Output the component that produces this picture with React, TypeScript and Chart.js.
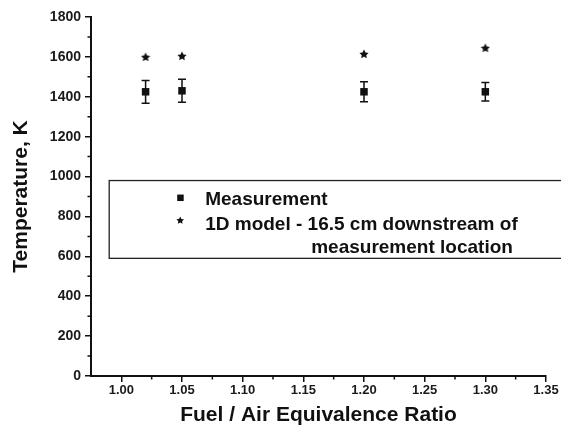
import React, { useEffect, useRef } from 'react';
import { Chart, registerables } from 'chart.js';

Chart.register(...registerables);

// ---- data ----
const ratio = [1.02, 1.05, 1.2, 1.3];
const measured = [1425, 1430, 1425, 1425];
const measuredErr = [57, 58, 50, 46];
const model = [1600, 1605, 1615, 1645];

const xTicks = [1.0, 1.05, 1.1, 1.15, 1.2, 1.25, 1.3, 1.35];
const yTicks = [0, 200, 400, 600, 800, 1000, 1200, 1400, 1600, 1800];

const legendLines = [
  'Measurement',
  '1D model - 16.5 cm downstream of',
  'measurement location',
];

const xTitle = 'Fuel / Air Equivalence Ratio';
const yTitle = 'Temperature, K';

const INK = '#111';
const FONT = 'Liberation Sans, Arial, sans-serif';

function drawStar(ctx: CanvasRenderingContext2D, cx: number, cy: number, R: number) {
  const r = R * 0.5;
  ctx.beginPath();
  for (let i = 0; i < 10; i++) {
    const a = -Math.PI / 2 + (i * Math.PI) / 5;
    const rad = i % 2 ? r : R;
    ctx.lineTo(cx + rad * Math.cos(a), cy + rad * Math.sin(a));
  }
  ctx.closePath();
  ctx.fill();
}

function makeStarCanvas(size: number) {
  const c = document.createElement('canvas');
  c.width = size;
  c.height = size;
  const ctx = c.getContext('2d')!;
  ctx.fillStyle = INK;
  drawStar(ctx, size / 2, size / 2 + 0.4, size / 2 - 0.2);
  return c;
}

const mids = (arr: number[]) => arr.slice(1).map((v, i) => (v + arr[i]) / 2);

const minorTicksPlugin = {
  id: 'minorTicks',
  afterDraw(chart: any) {
    const { ctx, chartArea, scales } = chart;
    ctx.save();
    ctx.strokeStyle = INK;
    ctx.lineWidth = 1.5;
    ctx.beginPath();
    for (const v of mids(xTicks)) {
      const px = scales.x.getPixelForValue(v);
      ctx.moveTo(px, chartArea.bottom);
      ctx.lineTo(px, chartArea.bottom + 3.5);
    }
    for (const v of mids(yTicks)) {
      const py = scales.y.getPixelForValue(v);
      ctx.moveTo(chartArea.left, py);
      ctx.lineTo(chartArea.left - 3.5, py);
    }
    ctx.stroke();
    ctx.restore();
  },
};

const errorBarPlugin = {
  id: 'errorBars',
  beforeDatasetsDraw(chart: any) {
    const { ctx, scales } = chart;
    const meta = chart.getDatasetMeta(0);
    ctx.save();
    ctx.strokeStyle = INK;
    ctx.lineWidth = 1.5;
    meta.data.forEach((pt: any, i: number) => {
      const x = pt.x;
      const yHi = scales.y.getPixelForValue(measured[i] + measuredErr[i]);
      const yLo = scales.y.getPixelForValue(measured[i] - measuredErr[i]);
      ctx.beginPath();
      ctx.moveTo(x, yHi);
      ctx.lineTo(x, yLo);
      ctx.moveTo(x - 4, yHi);
      ctx.lineTo(x + 4, yHi);
      ctx.moveTo(x - 4, yLo);
      ctx.lineTo(x + 4, yLo);
      ctx.stroke();
    });
    ctx.restore();
  },
};

const boxLegendPlugin = {
  id: 'boxLegend',
  afterDraw(chart: any) {
    const { ctx, scales } = chart;
    const left = scales.x.getPixelForValue(0.99);
    const top = scales.y.getPixelForValue(980);
    const bottom = scales.y.getPixelForValue(590);
    ctx.save();
    ctx.strokeStyle = '#222';
    ctx.lineWidth = 1.3;
    ctx.strokeRect(left, top, chart.width - left + 10, bottom - top);

    ctx.fillStyle = INK;
    // markers
    ctx.fillRect(left + 68, top + 14, 6.5, 6.5);
    drawStar(ctx, left + 71, top + 40, 4);

    ctx.font = `bold 19px ${FONT}`;
    ctx.textBaseline = 'alphabetic';
    ctx.textAlign = 'left';
    ctx.fillText(legendLines[0], left + 96, top + 24);
    ctx.fillText(legendLines[1], left + 96, top + 49);
    ctx.fillText(legendLines[2], left + 202, top + 72);
    ctx.restore();
  },
};

export default function App() {
  const ref = useRef<HTMLCanvasElement>(null);

  useEffect(() => {
    if (!ref.current) return;
    const star = makeStarCanvas(10);
    const chart = new Chart(ref.current, {
      type: 'scatter',
      data: {
        datasets: [
          {
            label: legendLines[0],
            data: ratio.map((x, i) => ({ x, y: measured[i] })),
            pointStyle: 'rect',
            pointRadius: 5.3,
            backgroundColor: INK,
            borderWidth: 0,
          },
          {
            label: legendLines[1],
            data: ratio.map((x, i) => ({ x, y: model[i] })),
            pointStyle: star as any,
            backgroundColor: INK,
            borderWidth: 0,
          },
        ],
      },
      options: {
        animation: false,
        responsive: false,
        layout: { padding: { left: 9, right: 15, top: 17, bottom: 0 } },
        plugins: {
          legend: { display: false },
          tooltip: { enabled: false },
        },
        scales: {
          x: {
            type: 'linear',
            min: 0.975,
            max: 1.35,
            afterBuildTicks: (s: any) => {
              s.ticks = xTicks.map((v) => ({ value: v }));
            },
            afterFit: (s: any) => {
              s.height = 58;
            },
            ticks: {
              callback: (v: any) => Number(v).toFixed(2),
              font: { family: FONT, size: 13, weight: 'bold' },
              color: '#1a1a1a',
              padding: 1,
              maxRotation: 0,
              autoSkip: false,
            },
            grid: {
              drawOnChartArea: false,
              drawTicks: true,
              tickLength: 6,
              color: INK,
              lineWidth: 1.5,
            },
            border: { display: true, color: INK, width: 2 },
            title: {
              display: true,
              text: xTitle,
              font: { family: FONT, size: 21, weight: 'bold' },
              color: INK,
              padding: { top: 0, bottom: 6 },
            },
          },
          y: {
            type: 'linear',
            min: 0,
            max: 1800,
            afterBuildTicks: (s: any) => {
              s.ticks = yTicks.map((v) => ({ value: v }));
            },
            afterFit: (s: any) => {
              s.width = 82;
            },
            ticks: {
              callback: (v: any) => String(v),
              font: { family: FONT, size: 14, weight: 'bold' },
              color: '#1a1a1a',
              padding: 4,
              autoSkip: false,
            },
            grid: {
              drawOnChartArea: false,
              drawTicks: true,
              tickLength: 6,
              color: INK,
              lineWidth: 1.5,
            },
            border: { display: true, color: INK, width: 2 },
            title: {
              display: true,
              text: yTitle,
              font: { family: FONT, size: 21, weight: 'bold' },
              color: INK,
              padding: { top: 0, bottom: 0 },
            },
          },
        },
      },
      plugins: [minorTicksPlugin, errorBarPlugin, boxLegendPlugin],
    } as any);
    return () => chart.destroy();
  }, []);

  return (
    <div
      style={{
        position: 'fixed',
        left: 0,
        top: 0,
        width: 561,
        height: 434,
        background: '#fff',
      }}
    >
      <canvas ref={ref} width={561} height={434} />
    </div>
  );
}
